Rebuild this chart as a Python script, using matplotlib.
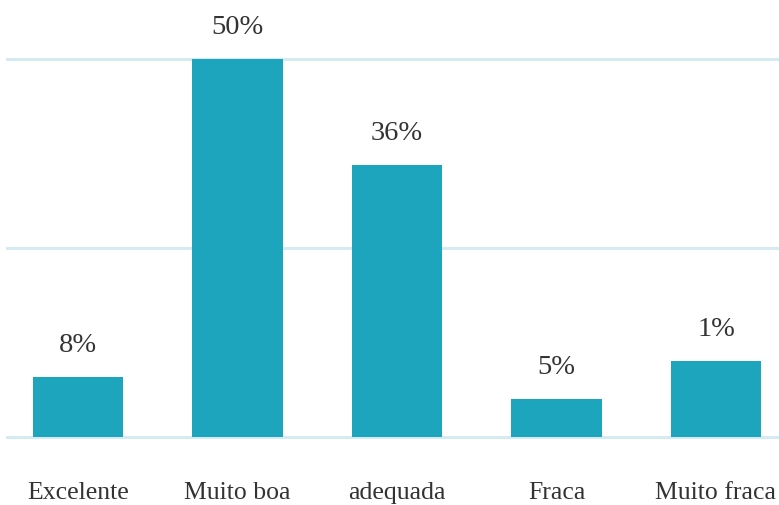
import matplotlib
matplotlib.use("Agg")
import matplotlib.pyplot as plt

categories = ["Excelente", "Muito boa", "adequada", "Fraca", "Muito fraca"]
values = [8, 50, 36, 5, 10]
value_labels = ["8%", "50%", "36%", "5%", "1%"]
grid_ticks = [0, 25, 50]

BAR_COLOR = "#1ca5bc"
GRID_COLOR = "#d6eaf1"
TEXT_COLOR = "#333333"
FONT = "Liberation Serif"

fig = plt.figure(figsize=(7.79, 5.06), dpi=100)
ax = fig.add_axes([7 / 779, 68 / 506, 772 / 779, 378 / 506])

x = list(range(len(categories)))
ax.bar(x, values, width=0.565, color=BAR_COLOR, zorder=3)

for t in grid_ticks:
    ax.axhline(t, color=GRID_COLOR, lw=2.2, zorder=1, clip_on=False)

for xi, v, lab in zip(x, values, value_labels):
    ax.annotate(lab, (xi, v), xytext=(0, 26), textcoords="offset pixels",
                ha="center", va="baseline", fontsize=20.5, family=FONT,
                color=TEXT_COLOR, annotation_clip=False)

for xi, cat in zip(x, categories):
    ax.annotate(cat, (xi, 0), xytext=(0, -61), textcoords="offset pixels",
                ha="center", va="baseline", fontsize=18.5, family=FONT,
                color=TEXT_COLOR, annotation_clip=False)

ax.set_xlim(-0.445, 4.395)
ax.set_ylim(0, 50)
ax.set_axis_off()

fig.savefig("out.png", dpi=100, facecolor="white")
